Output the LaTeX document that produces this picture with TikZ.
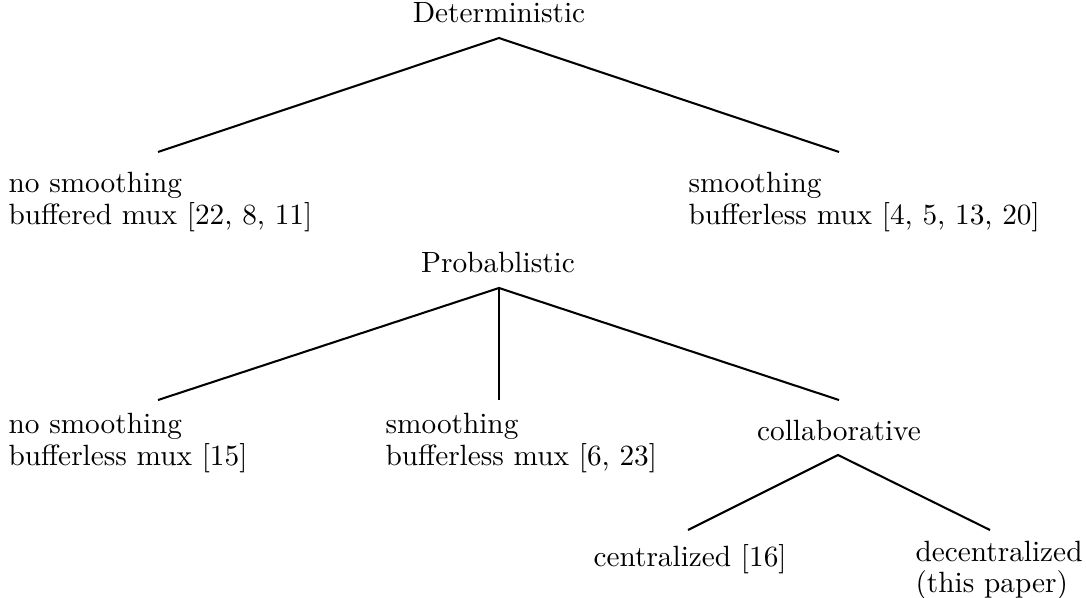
\documentclass[tikz,border=0pt]{standalone}
\begin{document}
\begin{tikzpicture}[x=0.3413pt,y=-0.3413pt,
  lbl/.style={anchor=base west,inner sep=0pt,font=\fontsize{10}{11}\selectfont},
  ttl/.style={anchor=base,inner sep=0pt,font=\fontsize{10}{11}\selectfont},
  edge/.style={line width=0.7pt}]
\useasboundingbox (0,0) rectangle (1086,598);
% Deterministic tree
\node[ttl] (det) at (499,23) {Deterministic};
\coordinate (detA) at (499,38);
\coordinate (detL) at (158,152);
\coordinate (detR) at (839,152);
\draw[edge] (detL) -- (detA) -- (detR);
\node[lbl] (d1a) at (8,193) {no smoothing};
\node[lbl] (d1b) at (8,225) {buffered mux [22, 8, 11]};
\node[lbl] (d2a) at (688,193) {smoothing};
\node[lbl] (d2b) at (688,225) {bufferless mux [4, 5, 13, 20]};
% Probablistic tree
\node[ttl] (prob) at (498,273) {Probablistic};
\coordinate (pA) at (499,288);
\coordinate (pL) at (158,400);
\coordinate (pM) at (499,400);
\coordinate (pR) at (839,400);
\draw[edge] (pL) -- (pA) -- (pR);
\draw[edge] (pA) -- (pM);
\node[lbl] (p1a) at (8,433) {no smoothing};
\node[lbl] (p1b) at (8,465) {bufferless mux [15]};
\node[lbl] (p2a) at (385,433) {smoothing};
\node[lbl] (p2b) at (385,465) {bufferless mux [6, 23]};
% collaborative subtree
\node[ttl] (coll) at (839,440) {collaborative};
\coordinate (cA) at (838,455);
\coordinate (cL) at (688,530);
\coordinate (cR) at (990,530);
\draw[edge] (cL) -- (cA) -- (cR);
\node[lbl] (cen) at (593,566) {centralized [16]};
\node[lbl] (dec1) at (915,561) {decentralized};
\node[lbl] (dec2) at (915,592) {(this paper)};
\end{tikzpicture}
\end{document}
